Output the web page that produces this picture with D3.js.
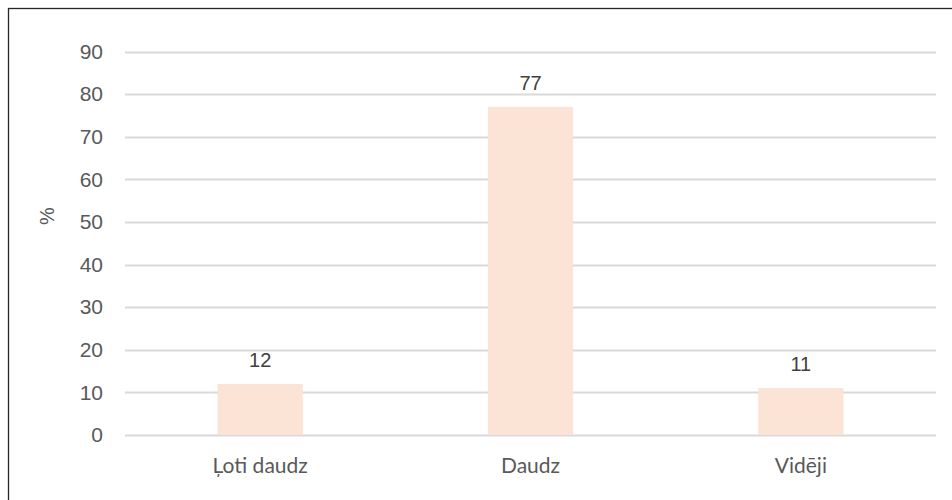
<!DOCTYPE html>
<html>
<head>
<meta charset="utf-8">
<script src="https://cdn.jsdelivr.net/npm/d3@7"></script>
<style>
  body { margin: 0; background: #fff; }
  svg { display: block; }
</style>
</head>
<body>
<svg id="chart" width="952" height="500"></svg>
<script>
var categories = ["Ļoti daudz", "Daudz", "Vidēji"];
var values = [12, 77, 11];
var yTicks = [0, 10, 20, 30, 40, 50, 60, 70, 80, 90];

var svg = d3.select("#chart");
var margin = {left: 125, right: 16, top: 51.5, bottom: 65};
var width = 952, height = 500;
var numFont = "'Liberation Sans', Arial, sans-serif";

// outer frame (only top/left visible in the picture)
svg.append("rect")
    .attr("x", 8.5).attr("y", 8.5)
    .attr("width", 960).attr("height", 520)
    .attr("fill", "none")
    .attr("stroke", "#262626")
    .attr("stroke-width", 1.3);

var x = d3.scaleBand()
    .domain(categories)
    .range([margin.left, width - margin.right])
    .paddingInner(0.685)
    .paddingOuter(0.3425);

var y = d3.scaleLinear()
    .domain([0, 90])
    .range([height - margin.bottom, margin.top]);

var grid = svg.append("g");
grid.selectAll("line")
    .data(yTicks)
    .enter().append("line")
    .attr("x1", margin.left)
    .attr("x2", width - margin.right)
    .attr("y1", function(d) { return Math.round(y(d)) + 0.5; })
    .attr("y2", function(d) { return Math.round(y(d)) + 0.5; })
    .attr("stroke", "#d9d9d9")
    .attr("stroke-width", 2);

var yAxis = svg.append("g")
    .attr("transform", "translate(" + margin.left + ",0)")
    .call(d3.axisLeft(y).tickValues(yTicks).tickSize(0).tickPadding(22));
yAxis.select(".domain").remove();
yAxis.selectAll("text")
    .attr("fill", "#595959")
    .style("font-family", numFont)
    .style("font-size", "21px");

svg.append("g").selectAll("rect")
    .data(values)
    .enter().append("rect")
    .attr("x", function(d, i) { return x(categories[i]); })
    .attr("y", function(d) { return y(d); })
    .attr("width", x.bandwidth())
    .attr("height", function(d) { return y(0) - y(d); })
    .attr("fill", "#fbe3d6");

svg.append("g").selectAll("text")
    .data(values)
    .enter().append("text")
    .attr("x", function(d, i) { return x(categories[i]) + x.bandwidth() / 2; })
    .attr("y", function(d) { return y(d) - 17; })
    .attr("text-anchor", "middle")
    .attr("fill", "#404040")
    .style("font-family", numFont)
    .style("font-size", "20px")
    .text(function(d) { return d; });

var xAxis = svg.append("g")
    .attr("transform", "translate(0," + y(0) + ")")
    .call(d3.axisBottom(x).tickSize(0).tickPadding(23));
xAxis.select(".domain").remove();
xAxis.selectAll("text")
    .attr("fill", "#595959")
    .style("font-family", "Lato, sans-serif")
    .style("font-size", "21px");

svg.append("text")
    .attr("transform", "translate(54,216) rotate(-90)")
    .attr("text-anchor", "middle")
    .attr("fill", "#595959")
    .style("font-family", numFont)
    .style("font-size", "20px")
    .text("%");
</script>
</body>
</html>
